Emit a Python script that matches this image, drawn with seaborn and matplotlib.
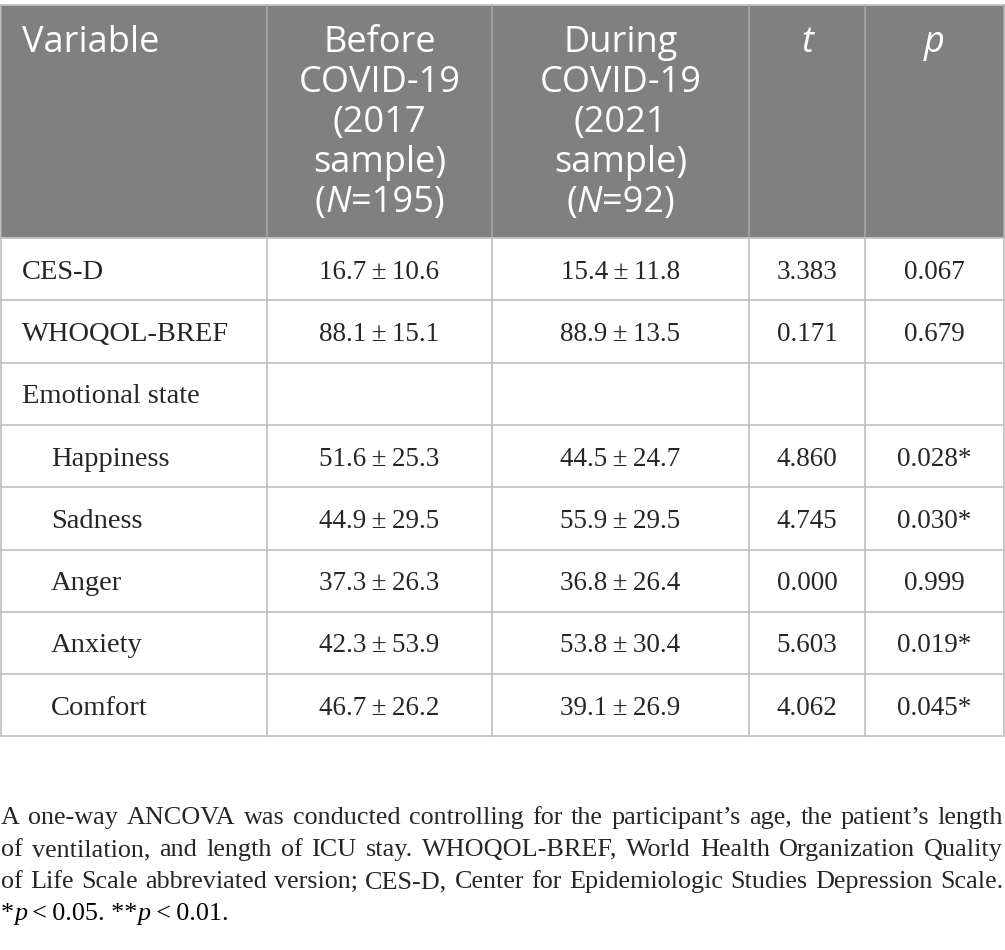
import matplotlib
matplotlib.use("Agg")
import matplotlib.pyplot as plt
import pandas as pd
import seaborn as sns

# table data
variables = ["CES-D", "WHOQOL-BREF", "Emotional state", "Happiness",
             "Sadness", "Anger", "Anxiety", "Comfort"]
indented = [False, False, False, True, True, True, True, True]
before_mean = [16.7, 88.1, None, 51.6, 44.9, 37.3, 42.3, 46.7]
before_sd = [10.6, 15.1, None, 25.3, 29.5, 26.3, 53.9, 26.2]
during_mean = [15.4, 88.9, None, 44.5, 55.9, 36.8, 53.8, 39.1]
during_sd = [11.8, 13.5, None, 24.7, 29.5, 26.4, 30.4, 26.9]
t_values = [3.383, 0.171, None, 4.860, 4.745, 0.000, 5.603, 4.062]
p_values = [0.067, 0.679, None, 0.028, 0.030, 0.999, 0.019, 0.045]

header_before = ["Before", "COVID-19", "(2017", "sample)"]
header_during = ["During", "COVID-19", "(2021", "sample)"]
n_before = "195"
n_during = "92"

footnote_lines = [
    "A one-way ANCOVA was conducted controlling for the participant\u2019s age, the patient\u2019s length",
    "of ventilation, and length of ICU stay. WHOQOL-BREF, World Health Organization Quality",
    "of Life Scale abbreviated version; CES-D, Center for Epidemiologic Studies Depression Scale.",
]

df = pd.DataFrame({
    "variable": variables, "indent": indented,
    "bm": before_mean, "bs": before_sd, "dm": during_mean, "ds": during_sd,
    "t": t_values, "p": p_values,
})

sns.set_theme(style="white")
plt.rcParams["font.family"] = ["Liberation Serif", "DejaVu Serif"]

W, H = 1005, 950
fig = plt.figure(figsize=(W / 100, H / 100), dpi=100)
ax = fig.add_axes([0, 0, 1, 1])
ax.set_xlim(0, W)
ax.set_ylim(H, 0)
ax.axis("off")

header_bg = "#808080"
grid_c = "#c4c4c4"
sans = ["Open Sans", "DejaVu Sans"]
serif = ["Liberation Serif", "DejaVu Serif"]

col_edges = [1, 267, 492, 749, 865, 1004]
top, head_bottom = 5, 238
row_h = 62.3
n_rows = len(df)
bottom = head_bottom + row_h * n_rows

renderer = fig.canvas.get_renderer()
inv = ax.transData.inverted()


def text_width(t):
    bb = t.get_window_extent(renderer)
    return inv.transform((bb.x1, 0))[0] - inv.transform((bb.x0, 0))[0]


def draw_runs(x, y, runs, size, family, color="black", ha="center"):
    # runs: list of (text, italic) pieces laid side by side
    texts = [ax.text(0, y, s, fontsize=size, family=family, color=color,
                     style="italic" if it else "normal", va="center")
             for s, it in runs]
    widths = [text_width(t) for t in texts]
    start = x - sum(widths) / 2 if ha == "center" else x
    for t, w in zip(texts, widths):
        t.set_x(start)
        start += w


def draw_justified(x0, x1, y, line, size, family):
    words = line.split(" ")
    texts = [ax.text(0, y, w, fontsize=size, family=family, va="center")
             for w in words]
    widths = [text_width(t) for t in texts]
    gap = (x1 - x0 - sum(widths)) / (len(words) - 1)
    pos = x0
    for t, w in zip(texts, widths):
        t.set_x(pos)
        pos += w + gap


# header background
ax.add_patch(plt.Rectangle((col_edges[0], top), col_edges[-1] - col_edges[0],
                           head_bottom - top, facecolor=header_bg,
                           edgecolor="none", zorder=0))

# grid lines
for i in range(n_rows + 1):
    y = head_bottom + i * row_h
    ax.plot([col_edges[0], col_edges[-1]], [y, y], color=grid_c, lw=1.3)
ax.plot([col_edges[0], col_edges[-1]], [top, top], color=grid_c, lw=1.3)
for x in col_edges:
    ax.plot([x, x], [top, head_bottom], color="#a8a8a8", lw=1.1)
    ax.plot([x, x], [head_bottom, bottom], color=grid_c, lw=1.3)

# header text
hsize = 26
line_y = [43, 83, 123, 163, 203]
ax.text(22, line_y[0], "Variable", fontsize=hsize, family=sans, color="white",
        va="center", ha="left")
centers = [(col_edges[i] + col_edges[i + 1]) / 2 for i in range(5)]
for lines, n, cx in [(header_before, n_before, centers[1]),
                     (header_during, n_during, centers[2])]:
    for s, y in zip(lines, line_y):
        ax.text(cx, y, s, fontsize=hsize, family=sans, color="white",
                va="center", ha="center")
    draw_runs(cx, line_y[4], [("(", False), ("N", True), ("=" + n + ")", False)],
              hsize, sans, color="white")
ax.text(centers[3], line_y[0], "t", fontsize=hsize, family=sans, color="white",
        style="italic", va="center", ha="center")
ax.text(centers[4], line_y[0], "p", fontsize=hsize, family=sans, color="white",
        style="italic", va="center", ha="center")

# body text
lsize = 20.5
nsize = 19.5
for i, r in df.iterrows():
    y = head_bottom + row_h * (i + 0.5) + 3
    ax.text(51 if r["indent"] else 22, y, r["variable"], fontsize=lsize,
            family=serif, va="center", ha="left")
    if pd.isna(r["bm"]):
        continue
    ax.text(centers[1], y, f"{r['bm']:.1f}\u2009\u00b1\u2009{r['bs']:.1f}",
            fontsize=nsize, family=serif, va="center", ha="center")
    ax.text(centers[2], y, f"{r['dm']:.1f}\u2009\u00b1\u2009{r['ds']:.1f}",
            fontsize=nsize, family=serif, va="center", ha="center")
    ax.text(centers[3], y, f"{r['t']:.3f}", fontsize=nsize, family=serif,
            va="center", ha="center")
    star = "*" if r["p"] < 0.05 else ""
    ax.text(centers[4], y, f"{r['p']:.3f}{star}", fontsize=nsize, family=serif,
            va="center", ha="center")

# footnote
fsize = 18.8
foot_y = [818, 850, 882]
for s, y in zip(footnote_lines, foot_y):
    draw_justified(1, 1003, y, s, fsize, serif)
draw_runs(1, 914, [("*", False), ("p", True), ("\u2009<\u20090.05. **", False),
                   ("p", True), ("\u2009<\u20090.01.", False)],
          fsize, serif, ha="left")

fig.savefig("out.png", dpi=100)
